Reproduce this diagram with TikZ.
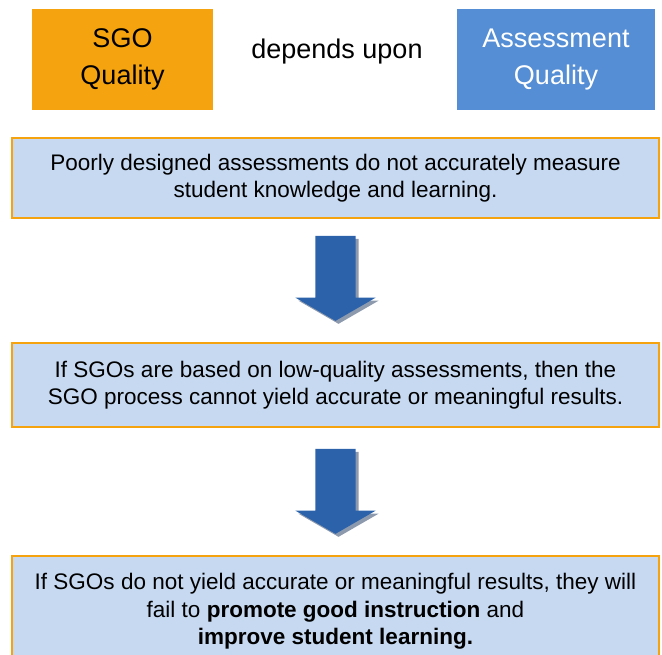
\documentclass[tikz,border=0pt]{standalone}
\definecolor{sgoOrange}{HTML}{F5A30E}
\definecolor{asmBlue}{HTML}{558ED5}
\definecolor{boxFill}{HTML}{C6D9F1}
\definecolor{arrBlue}{HTML}{2B62AA}
\definecolor{arrShade}{HTML}{8D9AAE}
\usepackage{fontspec}
\setmainfont{Liberation Sans}
\usepackage{tikz}
\usetikzlibrary{positioning,calc,shapes.arrows,shadows}

\begin{document}
\begin{tikzpicture}[x=1pt, y=-1pt,
  topbox/.style={minimum width=#1, minimum height=101pt, inner sep=0pt, align=center,
    font=\fontsize{27}{37}\selectfont},
  stepbox/.style={draw=sgoOrange, line width=2pt, fill=boxFill, minimum width=647pt, align=center,
    font=\fontsize{22.5}{27.5}\selectfont},
  downarrow/.style={single arrow, rotate=-90, fill=arrBlue, minimum height=85pt, minimum width=80pt,
    inner xsep=0pt, inner ysep=20pt, single arrow head extend=20pt, single arrow tip angle=120,
    drop shadow={shadow xshift=3pt, shadow yshift=-3pt, fill=arrShade, opacity=1}}]
\useasboundingbox (0,0) rectangle (662,655);
\node[topbox=181pt, fill=sgoOrange] (sgo) at (122.5,59.5) {SGO\\Quality};
\node[topbox=198pt, fill=asmBlue, text=white] (assess) at (556,59.5) {Assessment\\Quality};
\node[font=\fontsize{27}{37}\selectfont] (dep) at (337,52) {depends upon};
\node[stepbox, minimum height=80pt] (poor) at (335.5,178) {Poorly designed assessments do not accurately measure\\student knowledge and learning.};
\node[stepbox, minimum height=84pt] (lowq) at (335.5,385) {If SGOs are based on low-quality assessments, then the\\SGO process cannot yield accurate or meaningful results.};
\node[stepbox, minimum height=111pt] (fail) at (335.5,611.5) {If SGOs do not yield accurate or meaningful results, they will\\fail to \textbf{promote good instruction} and\\\textbf{improve student learning.}};
\node[downarrow] (arrA) at ($(poor.south)!0.5!(lowq.north)+(0,-8)$) {};
\node[downarrow] (arrB) at ($(lowq.south)!0.5!(fail.north)+(0,-6)$) {};
\end{tikzpicture}
\end{document}
